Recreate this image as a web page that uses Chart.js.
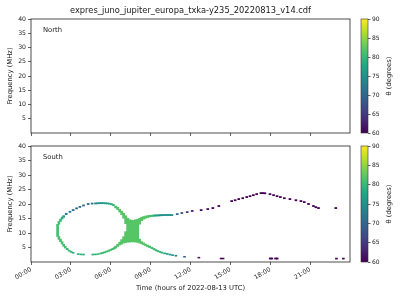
<!DOCTYPE html>
<html><head><meta charset="utf-8">
<script src="https://cdn.jsdelivr.net/npm/chart.js@4.4.0/dist/chart.umd.min.js"></script>
<style>
html,body{margin:0;padding:0;background:#fff;}
#wrap{position:relative;width:400px;height:300px;overflow:hidden;}
#wrap canvas{position:absolute;left:0;top:0;}
</style></head><body>
<div id="wrap">
<canvas id="cNorth" width="400" height="300"></canvas>
<canvas id="cSouth" width="400" height="300"></canvas>
<canvas id="cBarN" width="400" height="300"></canvas>
<canvas id="cBarS" width="400" height="300"></canvas>
</div>
<script>
// ---------------- text ----------------
const chartTitle = 'expres_juno_jupiter_europa_txka-y235_20220813_v14.cdf';
const panelNames = ['North', 'South'];
const freqLabel = 'Frequency (MHz)';
const timeLabel = 'Time (hours of 2022-08-13 UTC)';
const thetaLabel = 'θ (degrees)';

// ---------------- ticks ----------------
const freqTicks = [5, 10, 15, 20, 25, 30, 35, 40];
const timeTickValues = [0, 3, 6, 9, 12, 15, 18, 21];
const timeTickLabels = ['00:00', '03:00', '06:00', '09:00', '12:00', '15:00', '18:00', '21:00'];
const thetaTicks = [60, 65, 70, 75, 80, 85, 90];

// ---------------- North hemisphere (no emission) ----------------
const northTime = [];
const northFreqLow = [];
const northFreqHigh = [];
const northTheta = [];

// ---------------- South: thin curve marks (hours, MHz, degrees) ----------------
const loopTime = [
  2.00, 2.10, 2.22, 2.34, 2.46, 2.65, 2.93, 3.17, 3.43, 3.68, 3.95, 4.30, 4.60, 4.85, 5.00, 5.15, 5.30, 5.45, 5.60, 5.75, 5.90, 6.05, 6.20,
  2.10, 2.22, 2.34, 2.46, 2.58, 2.72, 2.87, 3.02, 3.17, 3.55, 3.75, 3.95, 4.65, 4.85, 5.05, 5.25, 5.40, 5.55, 5.70, 5.85, 6.00, 6.15, 6.27,
  9.10, 9.25, 9.40, 9.55, 9.70, 9.85, 10.00, 10.15, 10.30, 10.45, 10.60, 11.00, 11.35, 11.75, 12.13,
  9.10, 9.25, 9.40, 9.55, 9.70, 9.85, 10.05, 10.25, 10.45, 10.65, 10.90, 11.55,
  18.00, 18.12, 18.40, 18.52
];
const loopFreqLow = [
  8.8, 13.0, 14.0, 14.8, 15.4, 16.3, 17.1, 17.7, 18.3, 18.8, 19.3, 19.8, 19.95, 20.0, 20.05, 20.1, 20.1, 20.1, 20.05, 20.0, 19.9, 19.7, 19.4,
  7.8, 7.0, 6.2, 5.4, 4.8, 4.2, 3.7, 3.3, 3.0, 2.55, 2.45, 2.4, 2.4, 2.45, 2.55, 2.75, 2.95, 3.15, 3.4, 3.65, 3.95, 4.25, 4.5,
  15.65, 15.75, 15.8, 15.85, 15.9, 15.95, 16.0, 16.0, 16.0, 16.0, 16.0, 16.3, 16.7, 17.0, 17.4,
  4.6, 4.2, 3.85, 3.55, 3.3, 3.05, 2.8, 2.6, 2.4, 2.2, 2.0, 1.65,
  1.0, 1.0, 1.0, 1.0
];
const loopFreqHigh = [
  13.0, 14.0, 14.8, 15.5, 16.0, 16.8, 17.5, 18.1, 18.7, 19.2, 19.7, 20.2, 20.35, 20.4, 20.45, 20.5, 20.5, 20.5, 20.45, 20.4, 20.3, 20.15, 19.9,
  8.8, 7.9, 7.0, 6.1, 5.4, 4.7, 4.1, 3.7, 3.35, 2.9, 2.8, 2.75, 2.75, 2.8, 2.9, 3.15, 3.35, 3.55, 3.8, 4.1, 4.4, 4.75, 5.0,
  16.15, 16.25, 16.3, 16.3, 16.35, 16.4, 16.4, 16.4, 16.4, 16.4, 16.4, 16.7, 17.1, 17.4, 17.8,
  5.1, 4.7, 4.3, 3.95, 3.7, 3.45, 3.15, 2.95, 2.75, 2.55, 2.35, 1.95,
  1.4, 1.4, 1.4, 1.4
];
const loopTheta = [
  81, 81, 80, 79, 77, 73, 71, 70, 70, 70, 70, 71, 72, 74, 75, 75, 75, 76, 76, 77, 78, 79, 80,
  81, 81, 81, 81, 81, 80, 80, 80, 79, 79, 79, 79, 79, 79, 80, 80, 80, 80, 81, 81, 81, 81, 81,
  81, 79, 77, 76, 75, 75, 75, 75, 75, 75, 75, 70, 68, 65, 63,
  81, 81, 80, 80, 80, 79, 78, 77, 76, 75, 73, 69,
  60, 60, 60, 60
];

// ---------------- South: dense X-shaped core ----------------
const coreTime = [
  6.375, 6.375, 6.525, 6.525, 6.675, 6.675, 6.825, 6.825, 6.975, 6.975, 7.125, 7.125,
  7.275, 7.425, 7.575, 7.725, 7.875, 8.025,
  8.175, 8.175, 8.325, 8.325, 8.475, 8.475, 8.625, 8.625, 8.775, 8.775, 8.925, 8.925
];
const coreFreqLow = [
  18.63, 4.80, 18.08, 5.32, 17.22, 5.83, 16.30, 6.17, 15.09, 6.52, 13.21, 6.69,
  6.86, 6.86, 6.93, 6.93, 6.86, 6.76,
  13.04, 6.52, 14.24, 6.24, 14.75, 5.93, 15.09, 5.59, 15.33, 5.25, 15.54, 4.97
];
const coreFreqHigh = [
  19.31, 5.49, 18.87, 6.11, 18.18, 6.86, 17.50, 7.72, 16.81, 8.75, 15.95, 10.46,
  15.09, 14.58, 14.41, 14.41, 14.58, 14.75,
  15.09, 7.89, 15.44, 7.03, 15.68, 6.59, 15.85, 6.17, 15.99, 5.83, 16.09, 5.52
];
const coreTheta = [
  81, 81, 82, 82, 82, 82, 82, 82, 82, 82, 82, 82,
  82, 82, 82, 82, 82, 82,
  82, 82, 82, 82, 82, 82, 82, 82, 82, 82, 81, 81
];

// ---------------- South: sparse later arc ----------------
const arcTime = [
  12.63, 12.80, 13.30, 13.68, 14.13, 14.30, 14.45, 15.10, 15.36, 15.63, 15.93, 16.23, 16.48, 16.73, 16.98,
  17.30, 17.45, 17.60, 17.98, 18.25, 18.51, 18.76, 19.06, 19.48, 19.93, 20.31, 20.56, 20.88, 21.25, 21.43,
  21.63, 22.93, 22.98, 23.50
];
const arcFreqLow = [
  1.35, 17.7, 18.05, 18.4, 19.1, 1.05, 1.05, 20.8, 21.1, 21.5, 21.8, 22.2, 22.5, 22.85, 23.2,
  23.55, 23.55, 23.5, 23.2, 22.85, 22.5, 22.2, 21.8, 21.5, 21.1, 20.8, 20.45, 19.8, 19.1, 18.7,
  18.4, 18.4, 1.0, 1.0
];
const arcFreqHigh = [
  1.65, 18.1, 18.45, 18.8, 19.5, 1.35, 1.35, 21.2, 21.5, 21.9, 22.2, 22.6, 22.9, 23.25, 23.6,
  23.95, 23.95, 23.9, 23.6, 23.25, 22.9, 22.6, 22.2, 21.9, 21.5, 21.2, 20.85, 20.2, 19.5, 19.1,
  18.8, 18.8, 1.35, 1.35
];
const arcTheta = [
  61, 61, 61, 60, 60, 60, 60, 60, 60, 60, 60, 60, 60, 60, 60,
  60, 60, 60, 60, 60, 60, 60, 60, 60, 60, 60, 60, 60, 60, 60,
  60, 60, 60, 60
];

// ---------------- styling helpers ----------------
const FONT = '"DejaVu Sans", "Liberation Sans", sans-serif';
const INK = '#1a1a1a';
const viridisStops = ['#440154','#482475','#414487','#355f8d','#2a788e','#21918c','#22a884','#44bf70','#7ad151','#bddf26','#fde725'];
function hex2rgb(h){ return [1,3,5].map(i => parseInt(h.substr(i,2),16)); }
function viridis(theta){
  let t = (theta - 60) / 30; t = Math.max(0, Math.min(1, t));
  const p = t * 10; const i = Math.min(9, Math.floor(p)); const f = p - i;
  const a = hex2rgb(viridisStops[i]), b = hex2rgb(viridisStops[i+1]);
  return 'rgb(' + a.map((v,k) => Math.round(v + (b[k]-v)*f)).join(',') + ')';
}
function barData(time, lo, hi){ return time.map((t,i) => ({x: t, y: [lo[i], hi[i]]})); }

const framePlugin = {
  id: 'frame',
  afterDraw(chart){
    const {left, top, right, bottom} = chart.chartArea;
    const ctx = chart.ctx;
    ctx.save(); ctx.strokeStyle = '#222'; ctx.lineWidth = 0.8;
    ctx.strokeRect(left, top, right-left, bottom-top); ctx.restore();
  }
};
const textPlugin = {
  id: 'panelText',
  afterDraw(chart, args, opts){
    const ctx = chart.ctx; const ca = chart.chartArea;
    ctx.save(); ctx.fillStyle = INK;
    ctx.font = '6.8px ' + FONT; ctx.textAlign = 'left'; ctx.textBaseline = 'alphabetic';
    ctx.fillText(opts.name, ca.left + 12, ca.top + 13);
    if (opts.title) {
      ctx.font = '8.3px ' + FONT; ctx.textAlign = 'center';
      ctx.fillText(chartTitle, (ca.left + ca.right)/2, 13);
    }
    ctx.restore();
  }
};
const cbarPlugin = {
  id: 'cbar',
  afterDraw(chart){
    const ctx = chart.ctx; const {left, top, right, bottom} = chart.chartArea;
    const g = ctx.createLinearGradient(0, bottom, 0, top);
    viridisStops.forEach((c, i) => g.addColorStop(i/10, c));
    ctx.save();
    ctx.fillStyle = g; ctx.fillRect(left, top, right-left, bottom-top);
    ctx.strokeStyle = '#333'; ctx.lineWidth = 0.6; ctx.strokeRect(left, top, right-left, bottom-top);
    ctx.translate(389, (top+bottom)/2); ctx.rotate(-Math.PI/2);
    ctx.fillStyle = INK; ctx.font = '6.8px ' + FONT; ctx.textAlign = 'center'; ctx.textBaseline = 'middle';
    ctx.fillText(thetaLabel, 0, 0);
    ctx.restore();
  }
};

function xScale(showLabels){
  return {
    type: 'linear', min: 0, max: 24, offset: false,
    afterBuildTicks: s => { s.ticks = timeTickValues.map(v => ({value: v})); },
    afterFit: s => { s.height = showLabels ? 38 : 7; },
    grid: {display: true, drawOnChartArea: false, drawTicks: true, tickLength: 3, tickColor: '#222', tickWidth: 0.7, offset: false},
    border: {display: false},
    ticks: {display: showLabels, autoSkip: false, maxRotation: 30, minRotation: 30, padding: 1, color: INK,
            font: {family: FONT, size: 6.2}, callback: (v, i) => timeTickLabels[i]},
    title: {display: showLabels, text: timeLabel, color: INK, font: {family: FONT, size: 6.8}, padding: {top: 0, bottom: 8}}
  };
}
function yScale(){
  return {
    type: 'linear', min: 0, max: 40,
    afterBuildTicks: s => { s.ticks = freqTicks.map(v => ({value: v})); },
    afterFit: s => { s.width = 31; },
    grid: {display: true, drawOnChartArea: false, drawTicks: true, tickLength: 3, tickColor: '#222', tickWidth: 0.7},
    border: {display: false},
    ticks: {padding: 2, color: INK, font: {family: FONT, size: 6.2}, callback: (v, i) => String(freqTicks[i])},
    title: {display: true, text: freqLabel, color: INK, font: {family: FONT, size: 6.8}, padding: {top: 6, bottom: 0}}
  };
}
function makePanel(id, name, padTop, padBottom, showX, withTitle, datasets){
  return new Chart(document.getElementById(id), {
    type: 'bar',
    data: {datasets},
    options: {
      responsive: false, animation: false, devicePixelRatio: 1,
      layout: {padding: {left: 0, right: 50, top: padTop, bottom: padBottom}},
      plugins: {legend: {display: false}, tooltip: {enabled: false}, title: {display: false},
                panelText: {name, title: withTitle}},
      scales: {x: xScale(showX), y: yScale()}
    },
    plugins: [framePlugin, textPlugin]
  });
}
function makeColorbar(id, padTop, padBottom){
  return new Chart(document.getElementById(id), {
    type: 'scatter',
    data: {datasets: []},
    options: {
      responsive: false, animation: false, devicePixelRatio: 1,
      layout: {padding: {left: 361, right: 0, top: padTop, bottom: padBottom}},
      plugins: {legend: {display: false}, tooltip: {enabled: false}},
      scales: {
        x: {display: false, min: 0, max: 1},
        y: {position: 'right', min: 60, max: 90,
            afterBuildTicks: s => { s.ticks = thetaTicks.map(v => ({value: v})); },
            afterFit: s => { s.width = 32; },
            grid: {display: true, drawOnChartArea: false, drawTicks: true, tickLength: 2.5, tickColor: '#222', tickWidth: 0.7},
            border: {display: false},
            ticks: {padding: 1.5, color: INK, font: {family: FONT, size: 6}, callback: (v, i) => String(thetaTicks[i])}}
      }
    },
    plugins: [cbarPlugin]
  });
}

const common = {grouped: false, borderWidth: 0, borderSkipped: false};
makePanel('cNorth', panelNames[0], 19, 160, false, true, [
  Object.assign({data: barData(northTime, northFreqLow, northFreqHigh), backgroundColor: northTheta.map(viridis), barThickness: 2}, common)
]);
makePanel('cSouth', panelNames[1], 146, 0, true, false, [
  Object.assign({data: barData(loopTime, loopFreqLow, loopFreqHigh), backgroundColor: loopTheta.map(viridis), barThickness: 2}, common),
  Object.assign({data: barData(coreTime, coreFreqLow, coreFreqHigh), backgroundColor: coreTheta.map(viridis), barThickness: 2.2}, common),
  Object.assign({data: barData(arcTime, arcFreqLow, arcFreqHigh), backgroundColor: arcTheta.map(viridis), barThickness: 2}, common)
]);
makeColorbar('cBarN', 19, 167);
makeColorbar('cBarS', 146, 38);
</script>
</body></html>
